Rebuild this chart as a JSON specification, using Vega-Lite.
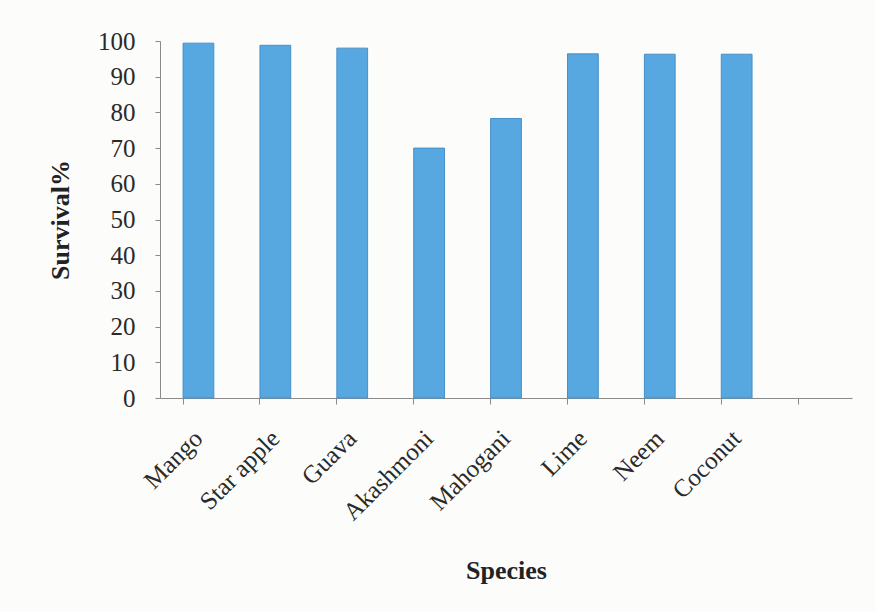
{
  "$schema": "https://vega.github.io/schema/vega-lite/v6.json",
  "width": 692,
  "height": 357,
  "autosize": {"type": "none"},
  "padding": {"left": 160, "top": 41, "right": 23, "bottom": 214},
  "background": "#fcfcfb",
  "data": {
    "values": [
      {"species": "Mango", "survival": 99.4},
      {"species": "Star apple", "survival": 98.8},
      {"species": "Guava", "survival": 98.0},
      {"species": "Akashmoni", "survival": 70.0},
      {"species": "Mahogani", "survival": 78.3},
      {"species": "Lime", "survival": 96.4},
      {"species": "Neem", "survival": 96.3},
      {"species": "Coconut", "survival": 96.3}
    ]
  },
  "mark": {"type": "bar", "color": "#57a8e0", "stroke": "#4690c8", "strokeWidth": 1},
  "encoding": {
    "x": {
      "field": "species",
      "type": "nominal",
      "sort": null,
      "scale": {
        "domain": ["Mango", "Star apple", "Guava", "Akashmoni", "Mahogani", "Lime", "Neem", "Coconut", "~"],
        "paddingInner": 0.6,
        "paddingOuter": 0.3
      },
      "axis": {
        "title": "Species",
        "titleFont": "Liberation Serif",
        "titleFontSize": 26,
        "titleFontWeight": "bold",
        "titleColor": "#222222",
        "titlePadding": 33,
        "labelFont": "Liberation Serif",
        "labelFontSize": 25,
        "labelColor": "#2a2a2a",
        "labelAngle": -45,
        "labelAlign": "right",
        "labelBaseline": "middle",
        "labelPadding": 30,
        "labelExpr": "datum.value == '~' ? '' : datum.value",
        "bandPosition": 0,
        "tickSize": 6,
        "tickColor": "#8a8a8a",
        "domainColor": "#8a8a8a",
        "grid": false
      }
    },
    "y": {
      "field": "survival",
      "type": "quantitative",
      "scale": {"domain": [0, 100], "nice": false},
      "axis": {
        "title": "Survival%",
        "titleFont": "Liberation Serif",
        "titleFontSize": 26,
        "titleFontWeight": "bold",
        "titleColor": "#222222",
        "titlePadding": 24,
        "labelFont": "Liberation Serif",
        "labelFontSize": 25,
        "labelColor": "#2a2a2a",
        "labelPadding": 20,
        "values": [0, 10, 20, 30, 40, 50, 60, 70, 80, 90, 100],
        "tickSize": 5,
        "tickColor": "#8a8a8a",
        "domainColor": "#8a8a8a",
        "grid": false
      }
    }
  },
  "config": {"view": {"stroke": null}}
}
